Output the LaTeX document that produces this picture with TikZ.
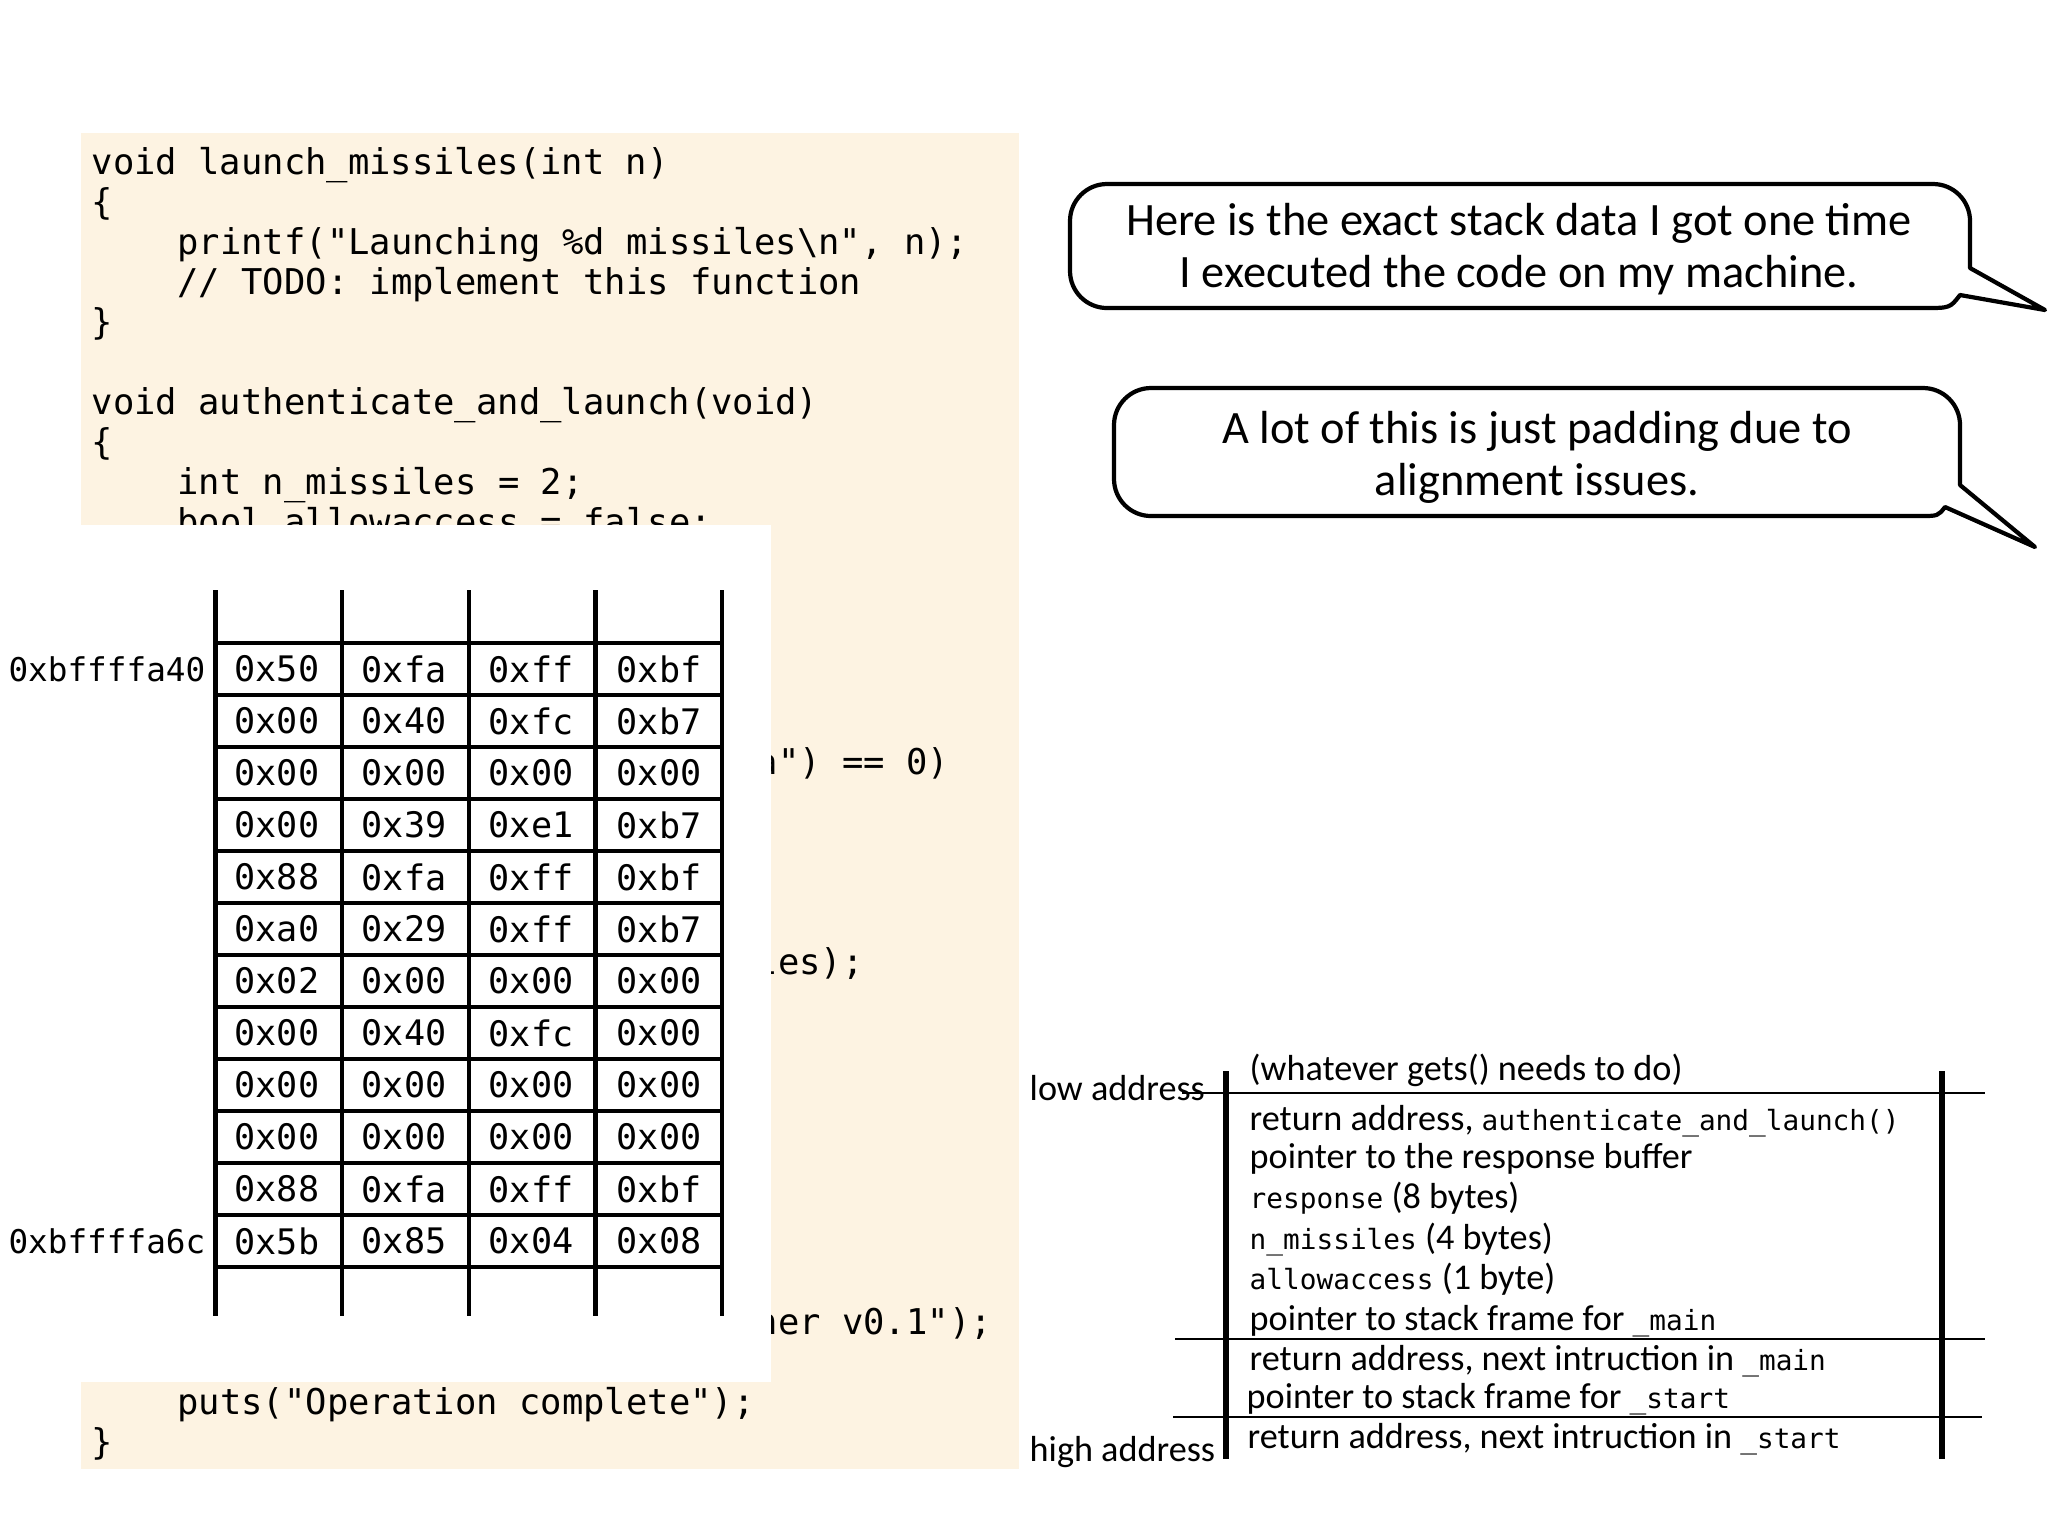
\documentclass[tikz,border=0pt]{standalone}
\usepackage{fontspec}
\setmainfont{Carlito}
\newfontfamily\codefont{DejaVu Sans Mono}
\usetikzlibrary{positioning}
\definecolor{codebg}{RGB}{253,243,226}
\newcommand\tok[1]{{\codefont\fontsize{7.9pt}{9pt}\selectfont #1}}

\begin{document}
\begin{tikzpicture}[x=0.1mm, y=-0.1mm,
					code/.style={anchor=west, inner sep=0pt, text height=0.75em, text depth=0.25em,
						font=\codefont\fontsize{10.1pt}{12pt}\selectfont},
					byte/.style={inner sep=0pt, font=\codefont\fontsize{10pt}{12pt}\selectfont},
					addr/.style={anchor=east, inner sep=0pt, font=\codefont\fontsize{9.3pt}{11pt}\selectfont},
					cell/.style={line width=1.15pt},
					bubble/.style={draw, line width=1.2pt, line join=round, fill=white},
					say/.style={align=center, inner sep=0pt, font=\fontsize{13.2pt}{14.8pt}\selectfont},
					slot/.style={anchor=west, inner sep=0pt, text height=0.7em, text depth=0.2em,
						font=\fontsize{10.3pt}{12pt}\selectfont}]
					\useasboundingbox (0,0) rectangle (2048,1536);
					\fill[white] (0,0) rectangle (2048,1536);
					% Quelltext
					\fill[codebg] (81,133) rectangle (1019,1469);
					\node[code] (l0) at (91,166) {void launch\_missiles(int n)};
					\node[code] (l1) at (91,206) {\{};
					\node[code] (l2) at (176.8,246) {printf("Launching \%d missiles\textbackslash n", n);};
					\node[code] (l3) at (176.8,286) {// TODO: implement this function};
					\node[code] (l4) at (91,326) {\}};
					\node[code] (l6) at (91,406) {void authenticate\_and\_launch(void)};
					\node[code] (l7) at (91,446) {\{};
					\node[code] (l8) at (176.8,486) {int n\_missiles = 2;};
					\node[code] (l9) at (176.8,526) {bool allowaccess = false;};
					\node[code] (l15) at (756,766) {a") == 0)};
					\node[code] (l20) at (756,966) {les);};
					\node[code] (l29) at (756,1326) {her v0.1");};
					\node[code] (l31) at (176.8,1406) {puts("Operation complete");};
					\node[code] (l32) at (91,1446) {\}};
					% Speicherauszug
					\fill[white] (81,525) rectangle (771,1382);
					\foreach \x in {215.5,342,469,595.5,722} \draw[cell] (\x,590) -- (\x,1316);
					\foreach \k in {0,...,12} \draw[cell] (215.5,{643+52*\k}) -- (722,{643+52*\k});
					\foreach \a/\b/\c/\d [count=\r from 0] in {0x50/0xfa/0xff/0xbf, 0x00/0x40/0xfc/0xb7,
						0x00/0x00/0x00/0x00, 0x00/0x39/0xe1/0xb7, 0x88/0xfa/0xff/0xbf, 0xa0/0x29/0xff/0xb7,
						0x02/0x00/0x00/0x00, 0x00/0x40/0xfc/0x00, 0x00/0x00/0x00/0x00, 0x00/0x00/0x00/0x00,
						0x88/0xfa/0xff/0xbf, 0x5b/0x85/0x04/0x08}
					{
						\node[byte] (b\r-0) at (277,{669+52*\r}) {\a};
						\node[byte] (b\r-1) at (404,{669+52*\r}) {\b};
						\node[byte] (b\r-2) at (531,{669+52*\r}) {\c};
						\node[byte] (b\r-3) at (659,{669+52*\r}) {\d};
					}
					\node[addr] (lo) at (206,669) {0xbffffa40};
					\node[addr] (hi) at (206,1241) {0xbffffa6c};
					% Sprechblasen
					\draw[bubble] (2045,310) -- (1960,295) .. controls (1950,308) .. (1925,308) [rounded corners=3.7mm]
						-- (1070,308) -- (1070,184) -- (1970,184) [sharp corners] -- (1970,268) -- cycle;
					\node[say] (say1) at (1519,249) {Here is the exact stack data I got one time\\I executed the code on my machine.};
					\draw[bubble] (2035,547) -- (1945,507) .. controls (1938,516) .. (1920,516) [rounded corners=3.7mm]
						-- (1114,516) -- (1114,388) -- (1960,388) [sharp corners] -- (1960,485) -- cycle;
					\node[say] (say2) at (1537,457) {A lot of this is just padding due to\\alignment issues.};
					% Stapelrahmen
					\draw[line width=1.5pt] (1226,1071) -- (1226,1459);
					\draw[line width=1.5pt] (1942,1071) -- (1942,1459);
					\draw[line width=0.6pt] (1182,1093) -- (1985,1093);
					\draw[line width=0.6pt] (1175,1339) -- (1985,1339);
					\draw[line width=0.6pt] (1173,1417) -- (1982,1417);
					\node[slot] (low) at (1029,1092) {low address};
					\node[slot] (high) at (1029,1453) {high address};
					\node[slot] (s0) at (1249,1072) {(whatever gets() needs to do)};
					\node[slot] (s1) at (1249,1122) {return address, \tok{authenticate\_and\_launch()}};
					\node[slot] (s2) at (1249,1160) {pointer to the response buffer};
					\node[slot] (s3) at (1249,1200) {\tok{response} (8 bytes)};
					\node[slot] (s4) at (1249,1241) {\tok{n\_missiles} (4 bytes)};
					\node[slot] (s5) at (1249,1281) {\tok{allowaccess} (1 byte)};
					\node[slot] (s6) at (1249,1322) {pointer to stack frame for \tok{\_main}};
					\node[slot] (s7) at (1249,1362) {return address, next intruction in \tok{\_main}};
					\node[slot] (s8) at (1246,1400) {pointer to stack frame for \tok{\_start}};
					\node[slot] (s9) at (1247,1440) {return address, next intruction in \tok{\_start}};
				\end{tikzpicture}
\end{document}
